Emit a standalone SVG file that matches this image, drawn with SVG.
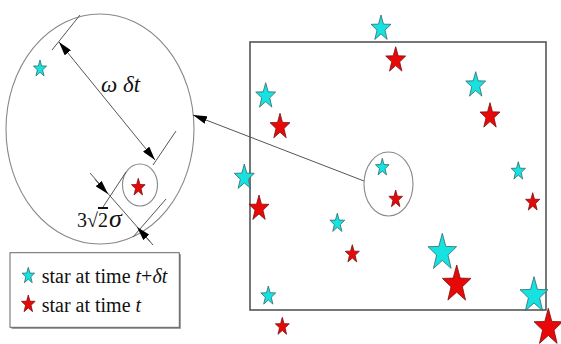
<svg xmlns="http://www.w3.org/2000/svg" width="561" height="344" viewBox="0 0 561 344">
<style>
.ln{stroke:#555;stroke-width:1;fill:none}
.el{stroke:#888;stroke-width:1.1;fill:none}
.cy{fill:#16e2e2;stroke:#2e6a6a;stroke-width:0.8}
.rd{fill:#e80808;stroke:#7a1010;stroke-width:0.8}
</style>
<defs>
<path id="st" d="M0,-10 L2.351,-3.236 L9.511,-3.09 L3.804,1.236 L5.878,8.09 L0,4 L-5.878,8.09 L-3.804,1.236 L-9.511,-3.09 L-2.351,-3.236 Z" vector-effect="non-scaling-stroke"/>
<marker id="ah" viewBox="0 0 14 8" refX="14" refY="4" markerWidth="14" markerHeight="8" markerUnits="userSpaceOnUse" orient="auto-start-reverse">
<path d="M0,0 L14,4 L0,8 Z" fill="#000"/>
</marker>
</defs>
<rect width="561" height="344" fill="#fff"/>

<g id="zoom-view">
<ellipse class="el" cx="100" cy="129" rx="94" ry="115"/>
</g>
<g id="window">
<ellipse class="el" cx="140" cy="185" rx="17.5" ry="21"/>
</g>
<g id="field">
<rect x="250" y="42" width="296" height="268" fill="none" stroke="#555" stroke-width="1.6"/>
</g>
<g id="field-window">
<ellipse class="el" cx="388.5" cy="184" rx="24.5" ry="32"/>
</g>

<g id="connectors">
<line class="ln" x1="52" y1="50" x2="80" y2="15"/>
<line class="ln" x1="176" y1="131" x2="153" y2="165"/>
<line class="ln" x1="59" y1="42" x2="155" y2="160" marker-start="url(#ah)" marker-end="url(#ah)"/>
<line class="ln" x1="126" y1="172" x2="103" y2="207"/>
<line class="ln" x1="166" y1="199" x2="133" y2="237"/>
<line class="ln" x1="90" y1="173" x2="153" y2="245"/>
<path class="ln" d="M95,179.5 L108,194" marker-end="url(#ah)"/>
<path class="ln" d="M150,241.5 L137,227" marker-end="url(#ah)"/>
<line class="ln" x1="364" y1="181" x2="193" y2="115" marker-end="url(#ah)"/>
</g>

<g id="stars-right">
<use href="#st" class="cy" transform="translate(381,28.5) scale(1.05,1.35)"/>
<use href="#st" class="rd" transform="translate(395.7,60.2) scale(1.05,1.35)"/>
<use href="#st" class="cy" transform="translate(265.7,96.2) scale(1.05,1.35)"/>
<use href="#st" class="rd" transform="translate(280,126.8) scale(1.05,1.35)"/>
<use href="#st" class="cy" transform="translate(475.7,85.2) scale(1.05,1.35)"/>
<use href="#st" class="rd" transform="translate(490,116.2) scale(1.05,1.35)"/>
<use href="#st" class="cy" transform="translate(244.3,177.5) scale(1.05,1.35)"/>
<use href="#st" class="rd" transform="translate(259,208.5) scale(1.05,1.35)"/>
<use href="#st" class="cy" transform="translate(382.3,167.5) scale(0.72,0.92)"/>
<use href="#st" class="rd" transform="translate(395.7,199.2) scale(0.72,0.92)"/>
<use href="#st" class="cy" transform="translate(337.3,223.3) scale(0.78,1)"/>
<use href="#st" class="rd" transform="translate(352.3,254.2) scale(0.74,0.95)"/>
<use href="#st" class="cy" transform="translate(442.3,252.7) scale(1.5,1.94)"/>
<use href="#st" class="rd" transform="translate(456.7,284.4) scale(1.5,1.94)"/>
<use href="#st" class="cy" transform="translate(518.3,171.3) scale(0.75,0.96)"/>
<use href="#st" class="rd" transform="translate(532.7,202.3) scale(0.75,0.96)"/>
<use href="#st" class="cy" transform="translate(268.3,296) scale(0.78,1)"/>
<use href="#st" class="rd" transform="translate(282.3,326.7) scale(0.73,0.94)"/>
<use href="#st" class="cy" transform="translate(534,295.5) scale(1.47,1.88)"/>
<use href="#st" class="rd" transform="translate(548.3,327.7) scale(1.5,1.94)"/>
</g>

<g id="stars-left">
<use href="#st" class="cy" transform="translate(40,68.8) scale(0.69,0.88)"/>
<use href="#st" class="rd" transform="translate(138.3,187.5) scale(0.72,0.92)"/>
</g>

<g id="labels" font-family="'Liberation Serif', 'Times New Roman', serif" fill="#111">
<text x="101" y="92" font-size="23" font-style="italic">ω δt</text>
<text x="77" y="227" font-size="20">3√<tspan text-decoration="overline">2</tspan><tspan font-size="26" font-style="italic" dx="1">σ</tspan></text>
</g>

<g id="legend">
<rect x="11.5" y="254.2" width="169.3" height="74.6" fill="#888"/>
<rect x="10" y="252.7" width="169.3" height="74.6" fill="#fff" stroke="#666" stroke-width="1"/>
<use href="#st" class="cy" transform="translate(28.3,275.8) scale(0.66,0.85)"/>
<use href="#st" class="rd" transform="translate(28.3,304.2) scale(0.72,0.92)"/>
<g font-family="'Liberation Serif', 'Times New Roman', serif" font-size="20" fill="#111">
<text x="41.7" y="283.3">star at time <tspan font-style="italic">t</tspan>+<tspan font-style="italic">δt</tspan></text>
<text x="41.7" y="311.7">star at time <tspan font-style="italic">t</tspan></text>
</g>
</g>
</svg>
